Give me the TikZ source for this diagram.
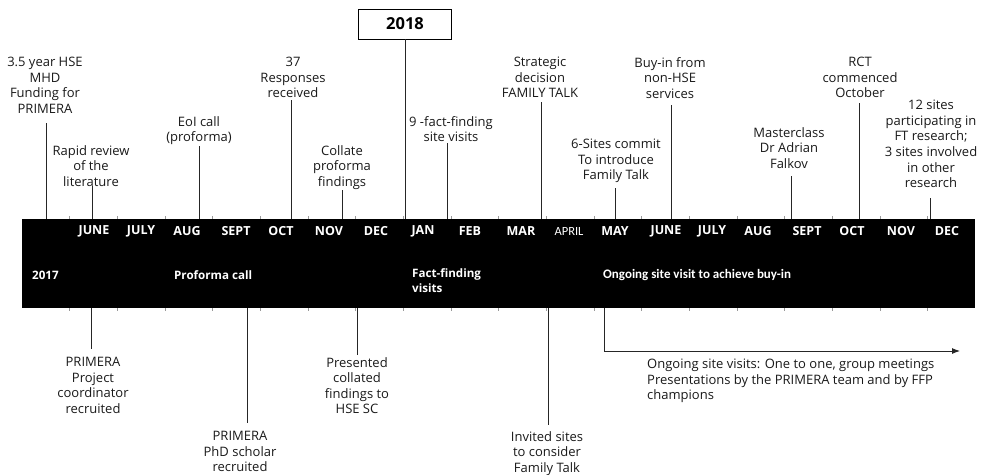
\documentclass[tikz,border=0pt]{standalone}
\usepackage{fontspec}
\setmainfont{Open Sans}
\newfontfamily\calfont{Carlito}
\usetikzlibrary{arrows.meta}
\begin{document}
\begin{tikzpicture}[x=1pt,y=-1pt,
  lbl/.style={align=center,font=\fontsize{13}{15.6}\selectfont,inner sep=0pt,anchor=north,text=black!90},
  mon/.style={font=\fontsize{12.5}{14}\selectfont\bfseries,text=white,inner sep=0pt},
  rowtxt/.style={font=\fontsize{11.6}{15}\selectfont\bfseries,text=white,inner sep=0pt,align=left},
  conn/.style={draw=black!85,line width=0.9pt},
  grid/.style={draw=black!40,line width=0.4pt}]
\useasboundingbox (0,0) rectangle (985,474);
% bar
\node[fill=black,minimum width=953pt,minimum height=89pt,inner sep=0pt,anchor=north west] (bar) at (22,219) {};
% faint table dividers (visible only just outside the bar)
\foreach \k in {1,...,19} {
  \draw[grid] ({22+47.65*\k},216) -- ({22+47.65*\k},219);
  \draw[grid] ({22+47.65*\k},308) -- ({22+47.65*\k},311);
}
% months
\node[mon] (m1) at (94,231) {JUNE};
\node[mon] (m2) at (141,231) {JULY};
\node[mon] (m3) at (187,231) {AUG};
\node[mon] (m4) at (236,231) {SEPT};
\node[mon] (m5) at (281,231) {OCT};
\node[mon] (m6) at (329,231) {NOV};
\node[mon] (m7) at (376,231) {DEC};
\node[mon] (m8) at (423,231) {JAN};
\node[mon] (m9) at (470,231) {FEB};
\node[mon] (m10) at (521,231) {MAR};
\node[mon,font=\fontsize{12.5}{14}\selectfont\calfont] (m11) at (569,231) {APRIL};
\node[mon] (m12) at (615,231) {MAY};
\node[mon] (m13) at (666,231) {JUNE};
\node[mon] (m14) at (712,231) {JULY};
\node[mon] (m15) at (758,231) {AUG};
\node[mon] (m16) at (807,231) {SEPT};
\node[mon] (m17) at (852,231) {OCT};
\node[mon] (m18) at (901,231) {NOV};
\node[mon] (m19) at (947,231) {DEC};
% row 2
\node[rowtxt,anchor=west] (y17) at (32,275) {2017};
\node[rowtxt,anchor=west] (pcall) at (174,275) {Proforma call};
\node[rowtxt,anchor=north west] (ffv) at (412,268) {Fact-finding\\visits};
\node[rowtxt,anchor=west,font=\fontsize{13}{14}\selectfont\calfont\bfseries] (ongo) at (603,275) {Ongoing site visit to achieve buy-in};
% year box
\node[draw=black,fill=white,line width=0.8pt,minimum width=93pt,minimum height=30pt,inner sep=0pt,font=\fontsize{16.5}{18}\selectfont\bfseries] (y18) at (405,24) {2018};
\draw[conn] (y18.south) -- (y18.south |- bar.north);
% labels above
\node[lbl] (fund) at (45,57) {3.5 year HSE\\MHD\\Funding for\\PRIMERA};
\coordinate (c1) at (46,123);
\draw[conn] (c1) -- (c1 |- bar.north);
\node[lbl] (rapid) at (91,145) {Rapid review\\of the\\literature};
\coordinate (c2) at (92,186);
\draw[conn] (c2) -- (c2 |- bar.north);
\node[lbl] (eoi) at (199,116) {EoI call\\(proforma)};
\coordinate (c3) at (199,146);
\draw[conn] (c3) -- (c3 |- bar.north);
\node[lbl] (resp) at (293,57) {37\\Responses\\received};
\coordinate (c4) at (291,100);
\draw[conn] (c4) -- (c4 |- bar.north);
\node[lbl] (coll) at (342,145) {Collate\\proforma\\findings};
\coordinate (c5) at (342,190);
\draw[conn] (c5) -- (c5 |- bar.north);
\node[lbl] (fact) at (451,116) {9 -fact-finding\\site visits};
\coordinate (c6) at (447,143);
\draw[conn] (c6) -- (c6 |- bar.north);
\node[lbl] (strat) at (540,57) {Strategic\\decision\\FAMILY TALK};
\coordinate (c7) at (541,102);
\draw[conn] (c7) -- (c7 |- bar.north);
\node[lbl] (six) at (616,139) {6-Sites commit\\To introduce\\Family Talk};
\coordinate (c8) at (615,188);
\draw[conn] (c8) -- (c8 |- bar.north);
\node[lbl] (buy) at (670,57) {Buy-in from\\non-HSE\\services};
\coordinate (c9) at (671,105);
\draw[conn] (c9) -- (c9 |- bar.north);
\node[lbl] (mast) at (789,127) {Masterclass\\Dr Adrian\\Falkov};
\coordinate (c10) at (791,176);
\draw[conn] (c10) -- (c10 |- bar.north);
\node[lbl] (rct) at (860,57) {RCT\\commenced\\October};
\coordinate (c11) at (859,103);
\draw[conn] (c11) -- (c11 |- bar.north);
\node[lbl] (twelve) at (931,100) {12 sites\\participating in\\FT research;\\3 sites involved\\in other\\research};
\coordinate (c12) at (930,198);
\draw[conn] (c12) -- (c12 |- bar.north);
% labels below
\node[lbl] (pcoord) at (93,357) {PRIMERA\\Project\\coordinator\\recruited};
\coordinate (d1) at (91,349);
\draw[conn] (d1 |- bar.south) -- (d1);
\node[lbl] (phd) at (240,431) {PRIMERA\\PhD scholar\\recruited};
\coordinate (d2) at (247,423);
\draw[conn] (d2 |- bar.south) -- (d2);
\node[lbl] (pres) at (357,357) {Presented\\collated\\findings to\\HSE SC};
\coordinate (d3) at (357,355);
\draw[conn] (d3 |- bar.south) -- (d3);
\node[lbl] (inv) at (547,431) {Invited sites\\to consider\\Family Talk};
\coordinate (d4) at (548,425);
\draw[conn] (d4 |- bar.south) -- (d4);
% elbow arrow
\coordinate (e0) at (604,351);
\coordinate (e1) at (960,351);
\draw[conn,-{Latex[length=8pt,width=6pt]}] (e0 |- bar.south) -- (e0) -- (e1);
\node[lbl,anchor=north west,align=left] (ongtxt) at (647,359) {Ongoing site visits: One to one, group meetings\\Presentations by the PRIMERA team and by FFP\\champions};
\end{tikzpicture}
\end{document}
